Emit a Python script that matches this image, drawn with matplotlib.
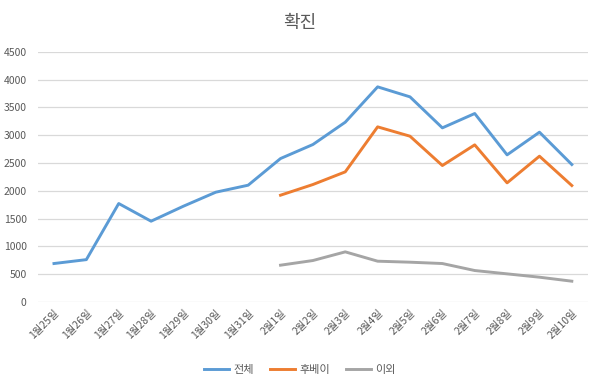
import matplotlib.pyplot as plt
import numpy as np

plt.rcParams['font.family'] = ['Noto Sans CJK KR', 'DejaVu Sans']

dates = ['1월25일', '1월26일', '1월27일', '1월28일', '1월29일', '1월30일', '1월31일',
         '2월1일', '2월2일', '2월3일', '2월4일', '2월5일', '2월6일', '2월7일',
         '2월8일', '2월9일', '2월10일']
total = [690, 760, 1770, 1452, 1722, 1974, 2100, 2580, 2832, 3234, 3870, 3690,
         3132, 3390, 2646, 3054, 2472]
hubei = [np.nan] * 7 + [1920, 2112, 2340, 3150, 2982, 2454, 2826, 2142, 2622, 2094]
others = [np.nan] * 7 + [660, 744, 900, 732, 714, 690, 564, 504, 444, 372]

x = np.arange(len(dates))

fig = plt.figure(figsize=(6, 3.87), dpi=100)
ax = fig.add_axes([0.063, 0.22, 0.917, 0.646])

ax.plot(x, total, color='#5B9BD5', lw=2.1, label='전체')
ax.plot(x, hubei, color='#ED7D31', lw=2.1, label='후베이')
ax.plot(x, others, color='#A5A5A5', lw=2.1, label='이외')

ax.set_xlim(-0.5, len(dates) - 0.5)
ax.set_ylim(0, 4500)
ax.set_yticks(np.arange(0, 4501, 500))
ax.set_xticks(x)
ax.set_xticklabels(dates, rotation=45, ha='right', rotation_mode='anchor',
                   fontsize=7.5, color='#595959')
ax.tick_params(axis='y', labelsize=7.5, labelcolor='#595959', length=0, pad=8)
ax.tick_params(axis='x', length=0, pad=4)
ax.grid(True, axis='y', color='#D9D9D9', lw=0.9)
ax.set_axisbelow(True)
for s in ax.spines.values():
    s.set_visible(False)

fig.suptitle('확진', y=0.965, fontsize=13, color='#595959')
fig.legend(loc='center', bbox_to_anchor=(0.5, 0.045), ncol=3, frameon=False,
           fontsize=8, handlelength=2.2, handletextpad=0.4, columnspacing=1.5,
           labelcolor='#595959')

plt.savefig('out.png', dpi=100)
